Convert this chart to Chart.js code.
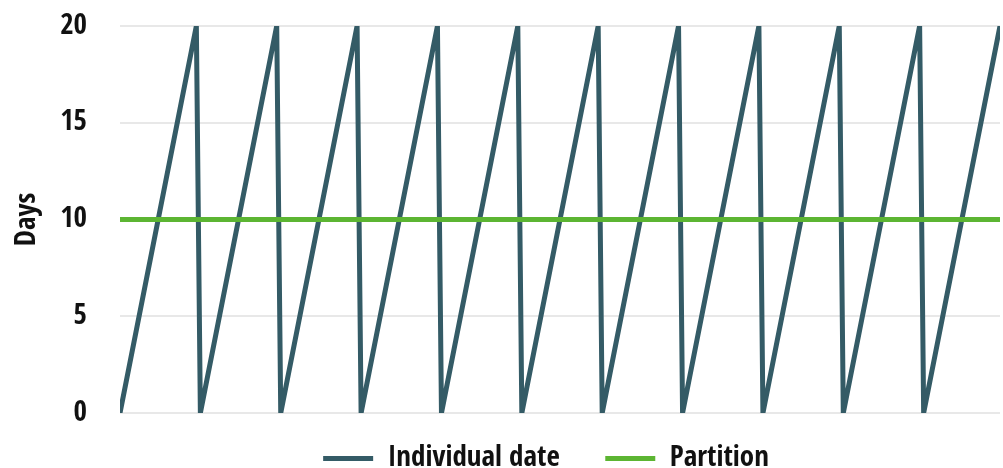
<!DOCTYPE html>
<html>
<head>
<meta charset="utf-8">
<script src="https://cdn.jsdelivr.net/npm/chart.js@4"></script>
<style>
  html, body { margin: 0; padding: 0; background: #ffffff; }
  #wrap { width: 1003px; height: 468px; }
</style>
</head>
<body>
<div id="wrap"><canvas id="chart" width="1003" height="468"></canvas></div>
<script>
// Sawtooth: days since the individual date, resetting every 20 days
const cycleDays = [0, 19, 20, 39, 40, 59, 60, 79, 80, 99, 100, 119, 120, 139, 140, 159, 160, 179, 180, 199, 200, 219];
const individualValues = [0, 20, 0, 20, 0, 20, 0, 20, 0, 20, 0, 20, 0, 20, 0, 20, 0, 20, 0, 20, 0, 20];

// Fixed partition threshold
const partitionDays = [0, 219];
const partitionValues = [10, 10];

const yTicks = [0, 5, 10, 15, 20];
const seriesNames = ['Individual date', 'Partition'];

const FONT_FAMILY = "'Open Sans Condensed', 'Liberation Sans Narrow', 'Open Sans', sans-serif";
const FONT_WEIGHT = 'bold condensed';
const FONT_SIZE = 29;

const toPoints = (xs, ys) => xs.map((x, i) => ({ x: x, y: ys[i] }));

// Nudge the bottom legend to the right of the canvas centre
const legendShift = {
  id: 'legendShift',
  afterLayout(chart) {
    if (chart.legend) {
      chart.legend.left += 46;
      chart.legend.right += 46;
    }
  }
};

new Chart(document.getElementById('chart'), {
  type: 'line',
  data: {
    datasets: [
      {
        label: seriesNames[0],
        data: toPoints(cycleDays, individualValues),
        borderColor: '#345b66',
        backgroundColor: '#345b66',
        borderWidth: 5,
        borderCapStyle: 'round',
        pointRadius: 0,
        tension: 0,
        order: 1
      },
      {
        label: seriesNames[1],
        data: toPoints(partitionDays, partitionValues),
        borderColor: '#5cb532',
        backgroundColor: '#5cb532',
        borderWidth: 5,
        borderCapStyle: 'round',
        pointRadius: 0,
        tension: 0,
        order: 0
      }
    ]
  },
  plugins: [legendShift],
  options: {
    responsive: false,
    animation: false,
    layout: { padding: { top: 26, right: 3, left: 0, bottom: -15 } },
    plugins: {
      tooltip: { enabled: false },
      legend: {
        position: 'bottom',
        labels: {
          usePointStyle: true,
          pointStyle: 'line',
          pointStyleWidth: 50,
          padding: 2,
          color: '#111111',
          font: { family: FONT_FAMILY, weight: FONT_WEIGHT, size: FONT_SIZE },
          generateLabels: (chart) => {
            const items = Chart.defaults.plugins.legend.labels.generateLabels(chart);
            items.sort((a, b) => a.datasetIndex - b.datasetIndex);
            // wider gap after every item except the last
            items.forEach((it, i) => {
              if (i < items.length - 1) it.text = it.text + '\u2003\u2002';
            });
            return items;
          }
        }
      }
    },
    scales: {
      x: {
        type: 'linear',
        min: 0,
        max: 219,
        grid: { display: false },
        border: { display: false },
        ticks: { display: false },
        afterFit: (scale) => { scale.height = 29; }
      },
      y: {
        min: 0,
        max: 20,
        afterBuildTicks: (scale) => { scale.ticks = yTicks.map(v => ({ value: v })); },
        grid: { color: '#e8e8e8', lineWidth: 2, drawTicks: false },
        border: { display: false },
        ticks: {
          padding: 33,
          color: '#111111',
          font: { family: FONT_FAMILY, weight: FONT_WEIGHT, size: FONT_SIZE }
        },
        title: {
          display: true,
          text: 'Days',
          color: '#111111',
          padding: { top: 10, bottom: 0 },
          font: { family: FONT_FAMILY, weight: FONT_WEIGHT, size: FONT_SIZE }
        },
        afterFit: (scale) => {
          scale.width = 120;
          scale.paddingTop = 0;
          scale.paddingBottom = 0;
        }
      }
    }
  }
});
</script>
</body>
</html>
